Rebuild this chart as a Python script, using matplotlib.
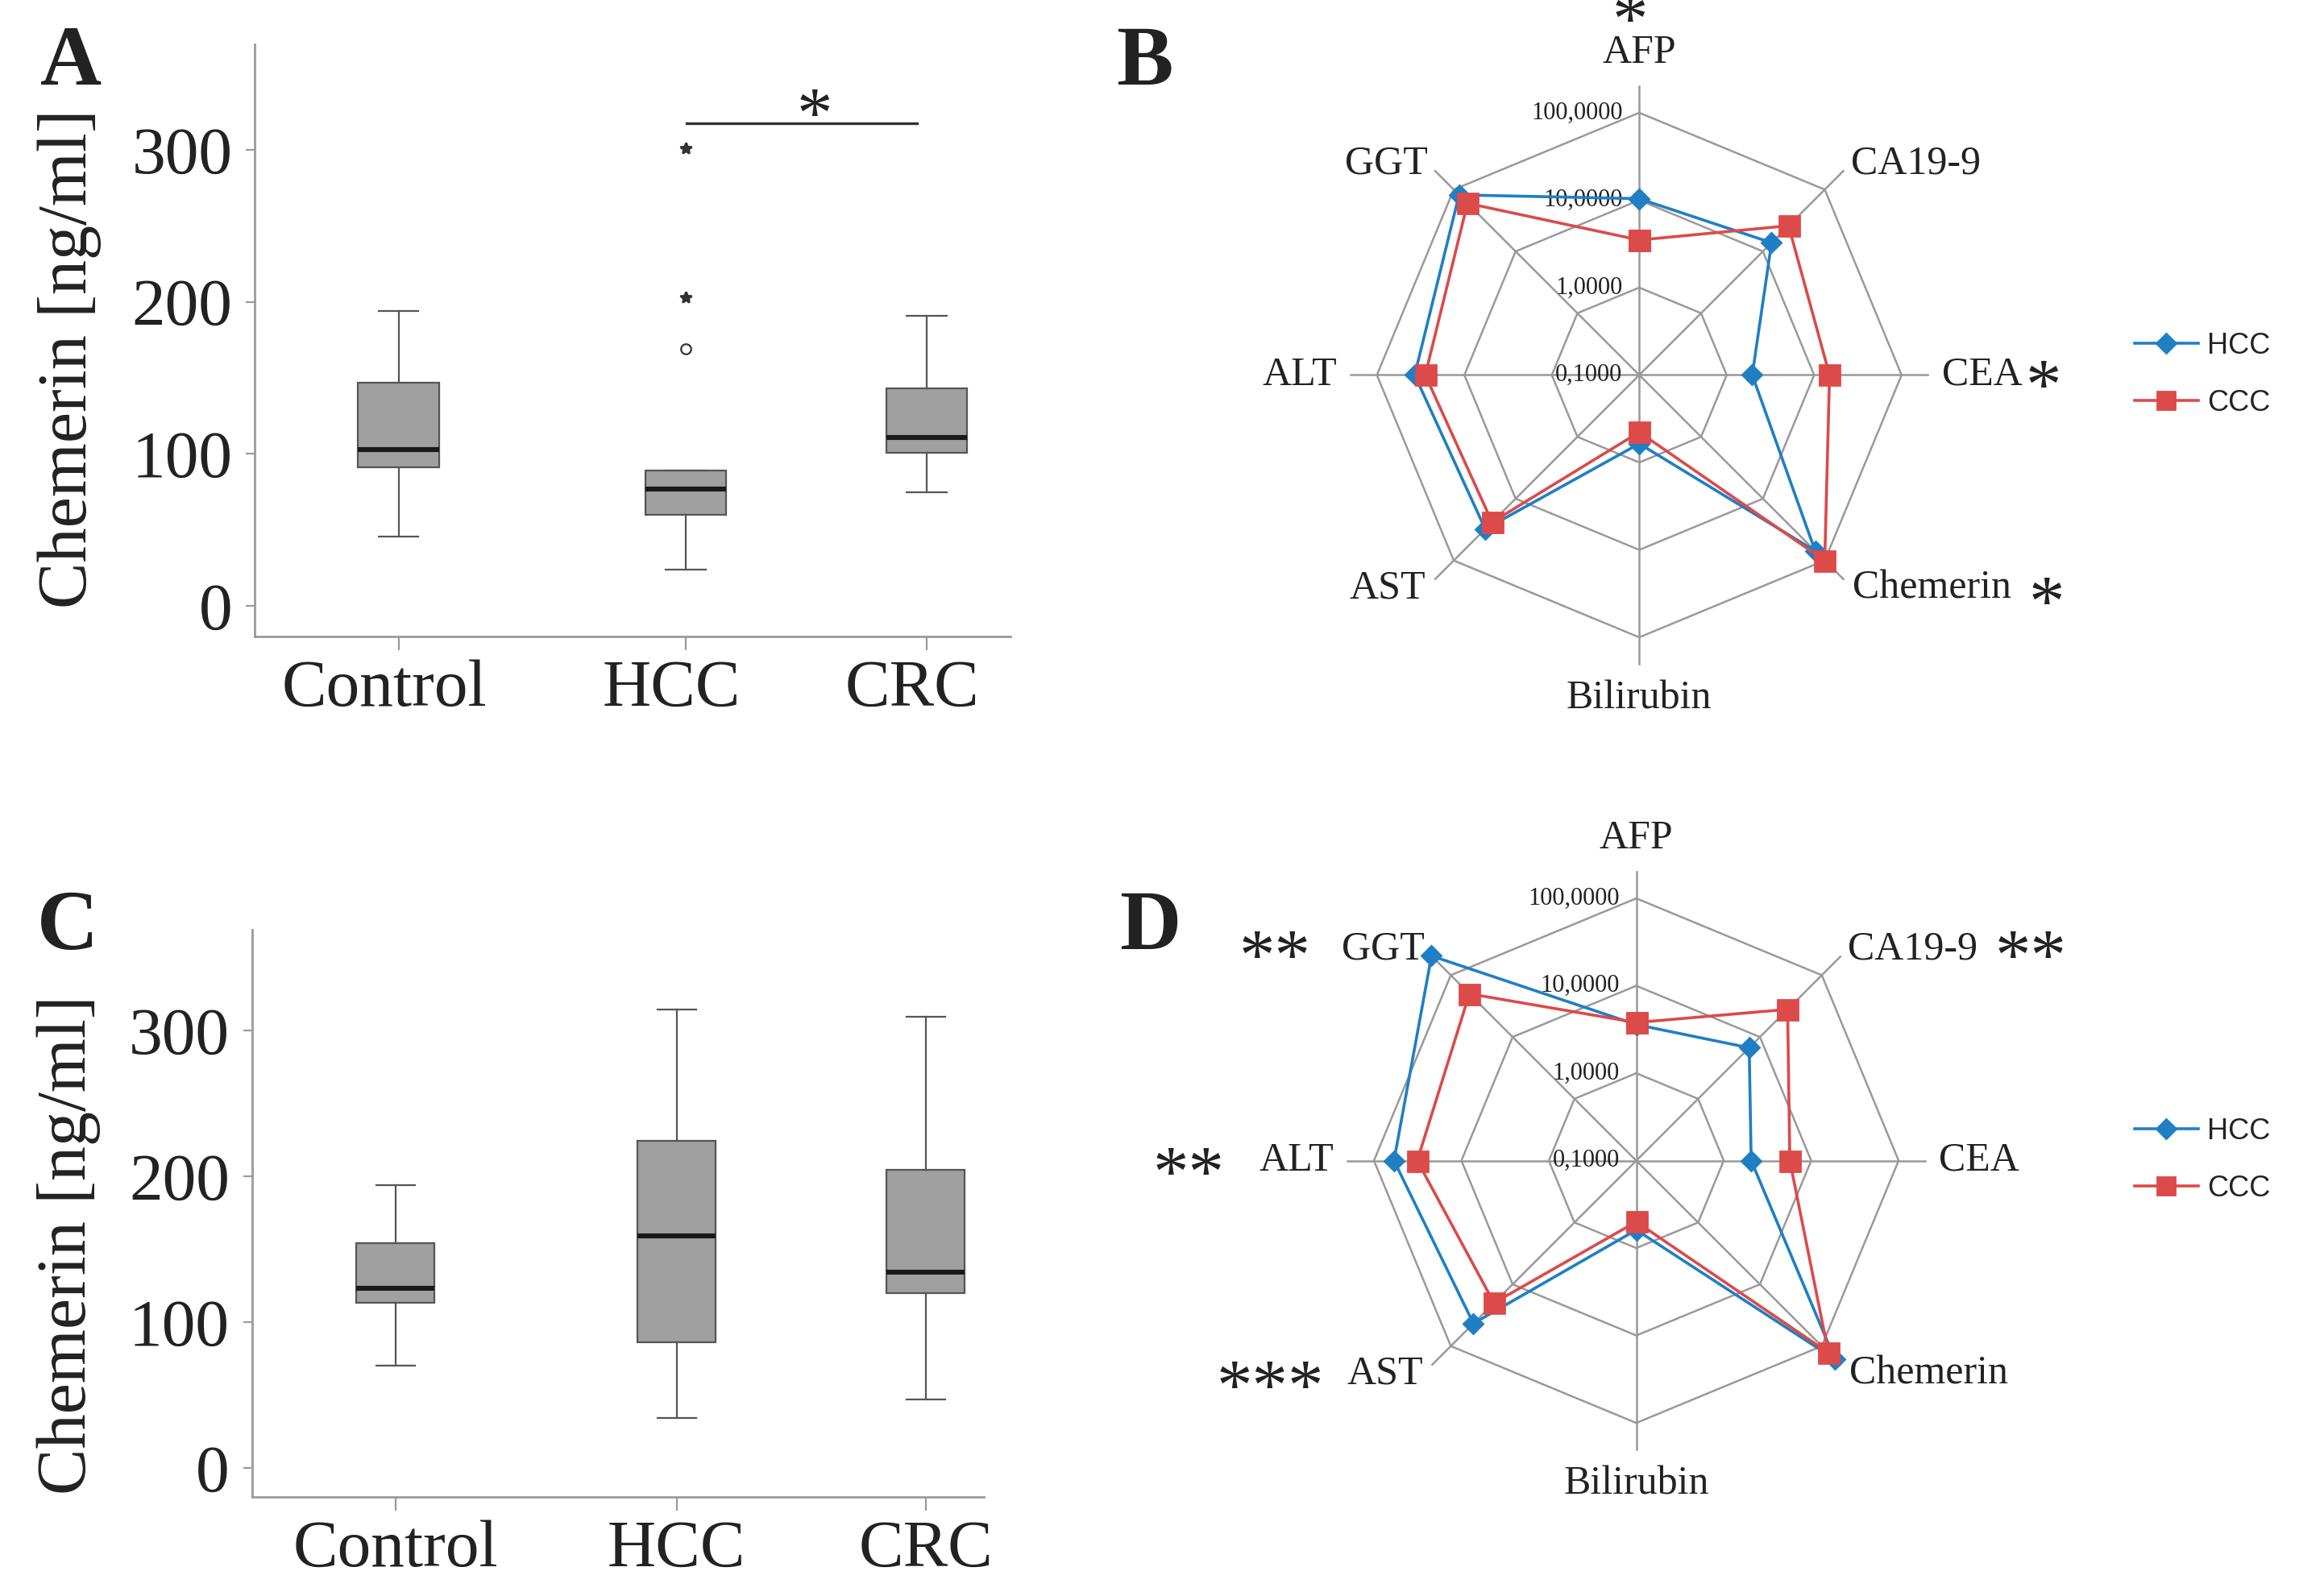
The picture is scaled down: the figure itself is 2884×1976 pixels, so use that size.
import numpy as np
import matplotlib.pyplot as plt
from matplotlib.lines import Line2D
from matplotlib.transforms import ScaledTranslation

plt.rcParams['font.family'] = ['Liberation Serif', 'DejaVu Serif']
plt.rcParams['text.color'] = '#222222'

groups = ['Control', 'HCC', 'CRC']

# panel A - chemerin box statistics (ng/ml)
a_whislo = [46, 24, 75]
a_q1 = [91, 60, 101]
a_med = [103, 77, 111]
a_q3 = [147, 89, 143]
a_whishi = [194, 89, 191]
a_outliers = [[], [169], []]
a_extremes = [[], [203, 301], []]

# panel C
c_whislo = [70, 34, 47]
c_q1 = [113, 86, 120]
c_med = [123, 159, 134]
c_q3 = [154, 224, 204]
c_whishi = [194, 314, 309]

# panels B and D - radar of marker levels (log scale)
markers = ['AFP', 'CA19-9', 'CEA', 'Chemerin', 'Bilirubin', 'AST', 'ALT', 'GGT']
b_hcc = [10.4, 13.8, 1.96, 70, 0.61, 31, 37, 82]
b_ccc = [3.5, 26, 15, 100, 0.45, 24, 28, 60]
d_hcc = [3.6, 6.7, 2.06, 163, 0.62, 43, 59, 205]
d_ccc = [3.8, 28, 5.7, 128, 0.50, 20, 32, 50]
ring_values = [0.1, 1, 10, 100]
ring_labels = ['0,1000', '1,0000', '10,0000', '100,0000']

blue = '#1f7fc4'
red = '#dc4a4a'
W, H = 1568.0, 1074.0   # layout measured on the reference, in its pixels

fig = plt.figure(figsize=(14.42, 9.88), dpi=200)


def box_panel(rect, pos, lo, q1, med, q3, hi, outl=None, extr=None):
    ax = fig.add_axes(rect)
    stats = []
    for i in range(3):
        stats.append(dict(whislo=lo[i], q1=q1[i], med=med[i], q3=q3[i],
                          whishi=hi[i], fliers=[]))
    ax.bxp(stats, positions=pos, widths=0.107, capwidths=0.053,
           patch_artist=True, showfliers=False, manage_ticks=False,
           boxprops=dict(facecolor='#a0a0a0', edgecolor='#555555', lw=0.8),
           medianprops=dict(color='#1a1a1a', lw=2.2),
           whiskerprops=dict(color='#555555', lw=0.8),
           capprops=dict(color='#555555', lw=0.8))
    if outl is not None:
        for i in range(3):
            if outl[i]:
                ax.plot([pos[i]] * len(outl[i]), outl[i], 'o', ms=4.5,
                        mfc='none', mec='#333333', mew=0.8)
            if extr[i]:
                ax.plot([pos[i]] * len(extr[i]), extr[i], '*', ms=5,
                        color='#333333')
    ax.set_xlim(0, 1)
    ax.set_ylim(-20, 369)
    ax.set_xticks(pos)
    ax.set_xticklabels(groups)
    ax.set_yticks([0, 100, 200, 300])
    ax.tick_params(axis='y', length=4, width=0.8, color='#9a9a9a', pad=6,
                   labelsize=30, labelcolor='#222222')
    ax.tick_params(axis='x', length=6, width=0.8, color='#9a9a9a', pad=4,
                   labelsize=30, labelcolor='#222222')
    for s in ['top', 'right']:
        ax.spines[s].set_visible(False)
    for s in ['left', 'bottom']:
        ax.spines[s].set_color('#9a9a9a')
        ax.spines[s].set_linewidth(1.0)
    return ax


axA = box_panel([172 / W, 1 - 429.5 / H, 510 / W, 399.5 / H],
                [0.19, 0.57, 0.889], a_whislo, a_q1, a_med, a_q3, a_whishi,
                a_outliers, a_extremes)
# category names sit a little left of their ticks in panel A
shift = ScaledTranslation(-6.5 / 72, 0, fig.dpi_scale_trans)
for lab in axA.get_xticklabels():
    lab.set_transform(lab.get_transform() + shift)
axA.text(-0.245, 0.47, 'Chemerin [ng/ml]', transform=axA.transAxes,
         rotation=90, ha='center', va='center', fontsize=31)
axA.plot([0.571, 0.876], [317, 317], color='#333333', lw=1.2)
axA.text(0.74, 309, '*', ha='center', va='baseline', fontsize=32)

axC = box_panel([170 / W, 1 - 1010 / H, 494 / W, 383 / H],
                [0.196, 0.58, 0.92], c_whislo, c_q1, c_med, c_q3, c_whishi)
axC.text(-0.25, 0.444, 'Chemerin [ng/ml]', transform=axC.transAxes,
         rotation=90, ha='center', va='center', fontsize=31)


def radar_panel(cx, cy, hcc, ccc):
    R = 177 * 3.3 / 3
    ax = fig.add_axes([(cx - R) / W, 1 - (cy + R) / H, 2 * R / W, 2 * R / H],
                      projection='polar')
    ax.set_theta_zero_location('N')
    ax.set_theta_direction(-1)
    ax.set_ylim(-1, 2.3)
    ax.axis('off')
    th = np.arange(len(markers)) * 2 * np.pi / len(markers)
    thc = np.append(th, th[0])
    for t in th:
        ax.plot([t, t], [-1, 2.3], color='#999999', lw=0.9, clip_on=False)
    for v in ring_values[1:]:
        ax.plot(thc, [np.log10(v)] * len(thc), color='#999999', lw=0.9,
                clip_on=False)
    for v, lab in zip(ring_values, ring_labels):
        ax.annotate(lab, xy=(0, np.log10(v)), xytext=(-7.5, 0),
                    textcoords='offset points', ha='right', va='center',
                    fontsize=11)
    lh = np.log10(hcc)
    lc = np.log10(ccc)
    ax.plot(thc, np.append(lh, lh[0]), color=blue, lw=1.3, marker='D',
            ms=6, clip_on=False, zorder=4, label='HCC')
    ax.plot(thc, np.append(lc, lc[0]), color=red, lw=1.3, marker='s',
            ms=9, clip_on=False, zorder=5, label='CCC')
    lab_r = [2.47, 2.42, 2.46, 2.45, 2.49, 2.45, 2.46, 2.42]
    lab_ha = ['center', 'left', 'left', 'left', 'center', 'right', 'right', 'right']
    lab_va = ['bottom', 'center', 'center', 'center', 'top', 'center', 'center', 'center']
    for i, m in enumerate(markers):
        ax.text(th[i], lab_r[i], m, ha=lab_ha[i], va=lab_va[i], fontsize=18)
    return ax


axB = radar_panel(1106, 253, b_hcc, b_ccc)
axD = radar_panel(1104, 783, d_hcc, d_ccc)

for yc in [252.5, 782.5]:
    hs = [Line2D([], [], color=blue, lw=1.3, marker='D', ms=6),
          Line2D([], [], color=red, lw=1.3, marker='s', ms=8)]
    fig.legend(hs, ['HCC', 'CCC'], loc='center left',
               bbox_to_anchor=(1440 / W, 1 - yc / H), frameon=False,
               prop=dict(family=['Liberation Sans Narrow', 'Liberation Sans'], size=13),
               handlelength=2.2, handletextpad=0.3, labelspacing=1.0,
               borderpad=0, borderaxespad=0)

# significance stars
stars = [(1100, 4, '*'), (1379, 251, '*'), (1381, 397, '*'),
         (860, 636, '**'), (1370, 636, '**'), (802, 782, '**'),
         (857, 926, '***')]
for x, y, s in stars:
    fig.text(x / W, 1 - (y + 24) / H, s, ha='center', va='baseline',
             fontsize=32)

# panel letters
for x, y, s in [(27, 57, 'A'), (753, 57, 'B'), (25, 640, 'C'), (755, 640, 'D')]:
    fig.text(x / W, 1 - y / H, s, ha='left', va='baseline', fontsize=38,
             fontweight='bold')

fig.savefig('out.png', dpi=200)
